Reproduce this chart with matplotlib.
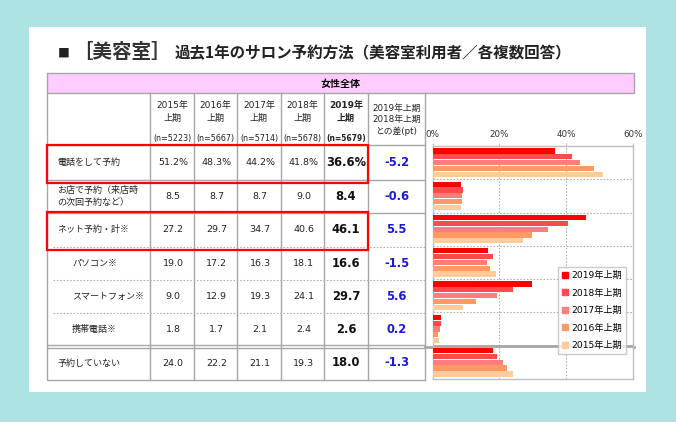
import matplotlib
matplotlib.use('Agg')
import matplotlib.pyplot as plt
from matplotlib.lines import Line2D
from matplotlib.patches import Rectangle

plt.rcParams['font.family'] = ['DejaVu Sans', 'Noto Sans CJK JP']

# data
periods = ['2015年上期', '2016年上期', '2017年上期', '2018年上期', '2019年上期']
head_years = ['2015年\n上期', '2016年\n上期', '2017年\n上期', '2018年\n上期', '2019年\n上期']
n_labels = ['(n=5223)', '(n=5667)', '(n=5714)', '(n=5678)', '(n=5679)']
items = ['電話をして予約', 'お店で予約（来店時\nの次回予約など）', 'ネット予約・計※',
         'パソコン※', 'スマートフォン※', '携帯電話※', '予約していない']
indent = [0, 0, 0, 1, 1, 1, 0]
v2015 = [51.2, 8.5, 27.2, 19.0, 9.0, 1.8, 24.0]
v2016 = [48.3, 8.7, 29.7, 17.2, 12.9, 1.7, 22.2]
v2017 = [44.2, 8.7, 34.7, 16.3, 19.3, 2.1, 21.1]
v2018 = [41.8, 9.0, 40.6, 18.1, 24.1, 2.4, 19.3]
v2019 = [36.6, 8.4, 46.1, 16.6, 29.7, 2.6, 18.0]
diff = [-5.2, -0.6, 5.5, -1.5, 5.6, 0.2, -1.3]
xticks = [0, 20, 40, 60]

values = [v2015, v2016, v2017, v2018, v2019]
colors = ['#FFCC99', '#FF9966', '#FF7C80', '#FF4B4B', '#FF0000']

fig = plt.figure(figsize=(6.76, 4.22), dpi=100)
fig.patch.set_facecolor('#ACE3E3')

# base layer in pixel coords
ax0 = fig.add_axes([0, 0, 1, 1])
ax0.set_xlim(0, 676)
ax0.set_ylim(422, 0)
ax0.axis('off')

ax0.add_patch(Rectangle((29, 27), 617, 365, facecolor='white', edgecolor='none'))

# title
ax0.text(58, 53, '■', fontsize=8.5, va='center', ha='left', family='Noto Sans CJK JP',
         color='#222222')
ax0.text(73, 52, '［美容室］', fontsize=14, fontweight='bold', va='center', ha='left',
         family='Noto Sans CJK JP', color='#333333')
ax0.text(175, 53, '過去1年のサロン予約方法（美容室利用者／各複数回答）', fontsize=11.2,
         fontweight='bold', va='center', ha='left', family='Noto Sans CJK JP', color='#222222')

# table geometry
L, R = 47, 633.5
top, hdr_bot = 73, 93
cols = [150, 194, 237, 281, 324, 368, 425]
rows = [145, 180, 213, 246.5, 280, 313, 346.5, 379.5]
gc = '#A6A6A6'

ax0.add_patch(Rectangle((L, top), R - L, hdr_bot - top, facecolor='#FFCCFF', edgecolor=gc, lw=1))
ax0.text((L + R) / 2, 83.5, '女性全体', fontsize=7.2, fontweight='bold', ha='center', va='center',
         family='Noto Sans CJK JP')
ax0.plot([L, L, cols[-1]], [hdr_bot, rows[-1], rows[-1]], color=gc, lw=1)
for x in cols:
    ax0.plot([x, x], [hdr_bot, rows[-1]], color=gc, lw=1)
ax0.plot([L, cols[-1]], [rows[0], rows[0]], color=gc, lw=1)
for i, y in enumerate(rows[1:-1], start=1):
    if i in (3, 4, 5):
        ax0.plot([53, cols[-1]], [y, y], color='#B0B0B0', lw=0.8, ls=(0, (1.5, 1.5)))
    elif i == 6:
        ax0.plot([L, cols[-1]], [y - 1.5, y - 1.5], color=gc, lw=1)
        ax0.plot([L, cols[-1]], [y + 1.5, y + 1.5], color=gc, lw=1)
        ax0.plot([cols[-1], R], [y, y], color=gc, lw=2)
    else:
        ax0.plot([L, cols[-1]], [y, y], color=gc, lw=1)

# header text
for k in range(5):
    cx = (cols[k] + cols[k + 1]) / 2
    bold = 'bold' if k == 4 else 'normal'
    ax0.text(cx, 112, head_years[k], fontsize=6.5, ha='center', va='center', fontweight=bold,
             linespacing=1.45, color='#222222')
    ax0.text(cx, 139, n_labels[k], fontsize=5.8 if k < 4 else 5.5, ha='center', va='center',
             fontweight=bold, color='#222222')
cxd = (cols[5] + cols[6]) / 2
ax0.text(cxd, 120, '2019年上期\n2018年上期\nとの差(pt)', fontsize=6.3, ha='center', va='center',
         linespacing=1.35, color='#222222')

# body text
for i, name in enumerate(items):
    cy = (rows[i] + rows[i + 1]) / 2
    ax0.text(57 + 15 * indent[i], cy, name, fontsize=6.5, ha='left', va='center',
             family='Noto Sans CJK JP', linespacing=1.5, color='#222222')
    for k in range(5):
        cx = (cols[k] + cols[k + 1]) / 2
        txt = f'{values[k][i]:.1f}' + ('%' if i == 0 else '')
        if k == 4:
            ax0.text(cx, cy, txt, fontsize=8.3, fontweight='bold', ha='center', va='center',
                     color='#111111')
        else:
            ax0.text(cx + 1, cy, txt, fontsize=6.8, ha='center', va='center', color='#222222')
    ax0.text(cxd, cy, f'{diff[i]:.1f}', fontsize=8.3, fontweight='bold', ha='center',
             va='center', color='#1A1AD6')

# red boxes
for y0, y1 in [(145, 182.5), (212, 249.5)]:
    ax0.add_patch(Rectangle((L, y0), cols[5] - L, y1 - y0, facecolor='none',
                            edgecolor='#FF0000', lw=1.6, zorder=5))

# bar chart
cl, cr = 432.7, 632.7
ct, cb = 146, 379
ax = fig.add_axes([cl / 676, 1 - cb / 422, (cr - cl) / 676, (cb - ct) / 422])
ax.set_xlim(0, 60)
ax.set_ylim(7, 0)
h = 0.175
for j, k in enumerate([4, 3, 2, 1, 0]):
    ys = [i + 0.06 + h * j + h / 2 for i in range(7)]
    ax.barh(ys, values[k], height=h * 0.9, color=colors[k], edgecolor='none', zorder=3,
            label=periods[k])
for x in xticks[1:-1]:
    ax.axvline(x, color='#B0B0B0', lw=0.8, ls=(0, (1.5, 1.5)), zorder=1)
for i in range(1, 7):
    if i == 6:
        ax.axhline(i, color='#A6A6A6', lw=2, zorder=2)
    else:
        ax.axhline(i, color='#B0B0B0', lw=0.8, ls=(0, (1.5, 1.5)), zorder=1)
ax.set_xticks(xticks)
ax.set_xticklabels([f'{t}%' for t in xticks], fontsize=6.3, color='#333333')
ax.xaxis.tick_top()
ax.tick_params(axis='x', length=2, pad=3, color='#BFBFBF')
ax.set_yticks([])
for s in ax.spines.values():
    s.set_color('#BFBFBF')
    s.set_linewidth(1)

# legend, newest period first
order = [4, 3, 2, 1, 0]
handles = [Line2D([], [], marker='s', ls='none', markersize=3.8, color=colors[k]) for k in order]
labels = [periods[k] for k in order]
leg = ax.legend(handles, labels, loc='upper left', bbox_to_anchor=(558 / 676, 1 - 267 / 422),
                bbox_transform=fig.transFigure, fontsize=6.6, frameon=True, fancybox=False,
                edgecolor='#BFBFBF', handlelength=0.7, handletextpad=0.25, labelspacing=0.92,
                borderpad=0.45, borderaxespad=0)
leg.get_frame().set_linewidth(1)
leg.set_zorder(10)

fig.savefig('out.png', dpi=100)
